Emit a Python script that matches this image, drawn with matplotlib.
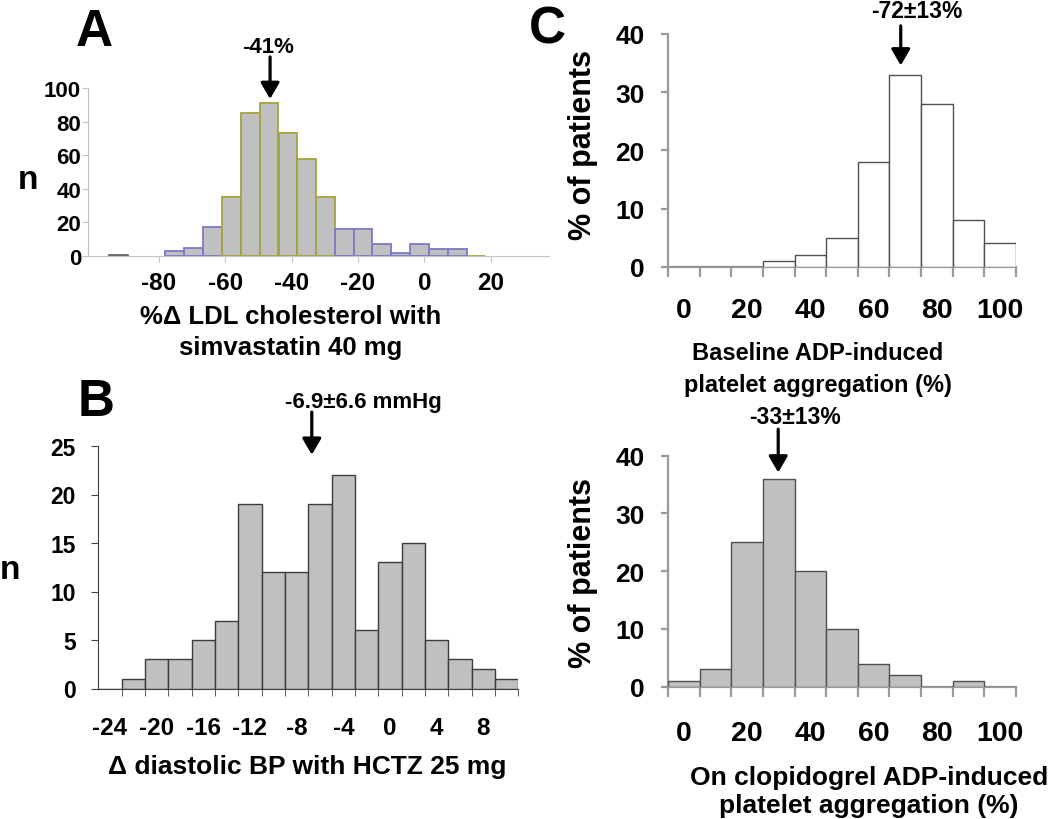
import matplotlib
matplotlib.use('Agg')
import matplotlib.pyplot as plt

plt.rcParams['font.family'] = ['Liberation Sans', 'DejaVu Sans']
plt.rcParams['font.weight'] = 'bold'

# ---------------- data ----------------
# Panel A: % change in LDL cholesterol (bin centres) and counts
A_centers = [-92.2, -75.2, -69.5, -63.8, -58.2, -52.5, -46.8, -41.1, -35.5,
             -29.8, -24.1, -18.5, -12.8, -7.1, -1.5, 4.2, 9.9, 15.6]
A_counts = [0.5, 3, 5, 17, 35, 85, 91, 73, 58, 35, 16, 16, 7, 2, 7, 4, 4, 0]
A_width = 5.67
A_xticks = [-80, -60, -40, -20, 0, 20]
A_yticks = [0, 20, 40, 60, 80, 100]
A_arrow_x = -46.5
A_note = "-41%"

# Panel B: change in diastolic BP (bin centres) and counts
B_centers = [-24, -22, -20, -18, -16, -14, -12, -10, -8, -6, -4, -2, 0, 2, 4, 6, 8, 10]
B_counts = [0, 1, 3, 3, 5, 7, 19, 12, 12, 19, 22, 6, 13, 15, 5, 3, 2, 1]
B_width = 2
B_xticks = [-24, -20, -16, -12, -8, -4, 0, 4, 8]
B_yticks = [0, 5, 10, 15, 20, 25]
B_arrow_x = -6.7
B_note = "-6.9\u00b16.6 mmHg"

# Panel C: ADP-induced platelet aggregation (bin centres), % of patients
C_centers = [0, 10, 20, 30, 40, 50, 60, 70, 80, 90, 100]
C_baseline = [0, 0, 0, 1, 2, 5, 18, 33, 28, 8, 4]
C_clopidogrel = [1, 3, 25, 36, 20, 10, 4, 2, 0, 1, 0]
C_width = 10
C_xticks = [0, 20, 40, 60, 80, 100]
C_yticks = [0, 10, 20, 30, 40]
C_top_arrow_x = 68.6
C_top_note = "-72\u00b113%"
C_bot_arrow_x = 29.8
C_bot_note = "-33\u00b113%"

# ---------------- layout helpers ----------------
W, H = 1050, 820
fig = plt.figure(figsize=(W / 100, H / 100), dpi=100)


def rect(x0, x1, y0, y1):
    return [x0 / W, 1 - y1 / H, (x1 - x0) / W, (y1 - y0) / H]


def ftext(x, y, s, size, **kw):
    kw.setdefault('ha', 'center')
    kw.setdefault('va', 'baseline')
    fig.text(x / W, 1 - y / H, s, fontsize=size, fontweight='bold', **kw)


def arrow(ax, x, y_tail, y_tip):
    ax.annotate('', xy=(x, y_tip), xytext=(x, y_tail),
                arrowprops=dict(arrowstyle='-|>,head_length=0.65,head_width=0.38',
                                color='black', lw=2.3, mutation_scale=15,
                                shrinkA=0, shrinkB=0),
                annotation_clip=False)


# ---------------- Panel A ----------------
axA = fig.add_axes(rect(88, 549, 89, 257))
edgesA = []
for i in range(len(A_centers)):
    if i == 0:
        edgesA.append('#6a6a6a')
    elif 4 <= i <= 9 or i == len(A_centers) - 1:
        edgesA.append('#a4a43c')
    else:
        edgesA.append('#7a7ac8')
axA.bar(A_centers, A_counts, width=A_width, color='#c0c0c0',
        edgecolor=edgesA, linewidth=1.3, zorder=3)
axA.set_xlim(-101.4, 37.6)
axA.set_ylim(0, 100)
for s in ['top', 'right']:
    axA.spines[s].set_visible(False)
axA.spines['left'].set_color('#c4c4c4')
axA.spines['bottom'].set_color('#c4c4c4')
axA.set_xticks(A_xticks)
axA.set_xticklabels([str(v) for v in A_xticks])
axA.set_yticks(A_yticks)
axA.set_yticklabels([str(v) for v in A_yticks])
axA.tick_params(axis='y', length=4, color='#c4c4c4', labelsize=16, pad=1)
axA.tick_params(axis='x', length=4, color='#c4c4c4', labelsize=17.5, pad=7)
arrow(axA, A_arrow_x, 118.5, 93.5)
ftext(268, 53, A_note, 16)
ftext(94.5, 46.5, 'A', 37)
ftext(28, 189, 'n', 24)
ftext(291, 324, "%\u0394 LDL cholesterol with", 18.5)
ftext(291, 355, "simvastatin 40 mg", 18.5)

# ---------------- Panel B ----------------
axB = fig.add_axes(rect(98.2, 518.4, 447, 689.5))
axB.bar(B_centers, B_counts, width=B_width, color='#c0c0c0',
        edgecolor='#3c3c3c', linewidth=1.0, zorder=3)
axB.set_xlim(-25, 11)
axB.set_ylim(0, 25)
for s in ['top', 'right']:
    axB.spines[s].set_visible(False)
axB.spines['left'].set_color('#404040')
axB.spines['bottom'].set_color('#404040')
axB.set_xticks(B_xticks)
axB.set_xticklabels([str(v) for v in B_xticks])
axB.set_xticks([c + B_width / 2 for c in B_centers], minor=True)
axB.set_yticks(B_yticks)
axB.set_yticklabels([str(v) for v in B_yticks])
axB.tick_params(axis='x', which='major', length=0, labelsize=17.5, pad=20)
axB.tick_params(axis='x', which='minor', length=5, color='#404040', direction='out')
axB.tick_params(axis='y', length=5, color='#404040', labelsize=16.5, pad=11)
arrow(axB, B_arrow_x, 28.5, 24.1)
ftext(363, 408, B_note, 16)
ftext(96, 416.5, 'B', 37)
ftext(10, 579, 'n', 24)
ftext(307.5, 774, "\u0394 diastolic BP with HCTZ 25 mg", 19)


# ---------------- Panel C ----------------
def panel_c(ytop, ybot, values, fill, note, ax_x, y_tail, y_tip, note_xy, xlabel_pad):
    ax = fig.add_axes(rect(668.3, 1015.7, ytop, ybot))
    ax.bar(C_centers, values, width=C_width, color=fill,
           edgecolor='#505050', linewidth=1.0, zorder=3)
    ax.set_xlim(C_centers[0] - C_width / 2, C_centers[-1] + C_width / 2)
    ax.set_ylim(0, 40)
    for s in ['top', 'right']:
        ax.spines[s].set_visible(False)
    for s in ['left', 'bottom']:
        ax.spines[s].set_color('#9a9a9a')
        ax.spines[s].set_linewidth(1.6)
    ax.set_xticks(C_xticks)
    ax.set_xticklabels([str(v) for v in C_xticks])
    ax.set_xticks([C_centers[0] - C_width / 2] + [c + C_width / 2 for c in C_centers], minor=True)
    ax.set_yticks(C_yticks)
    ax.set_yticklabels([str(v) for v in C_yticks])
    ax.tick_params(axis='x', which='major', length=0, labelsize=20.5, pad=xlabel_pad)
    ax.tick_params(axis='x', which='minor', length=7, width=1.6, color='#9a9a9a')
    ax.tick_params(axis='y', length=5, width=1.6, color='#9a9a9a', labelsize=19, pad=12)
    arrow(ax, ax_x, y_tail, y_tip)
    ftext(note_xy[0], note_xy[1], note, 16.5)
    return ax


axC1 = panel_c(35, 267.7, C_baseline, 'white', C_top_note, C_top_arrow_x,
               41.4, 34.6, (916.7, 18.5), 22)
axC2 = panel_c(456.7, 687.7, C_clopidogrel, '#c0c0c0', C_bot_note, C_bot_arrow_x,
               44.6, 37.1, (795, 424.5), 24)

ftext(547, 43.5, 'C', 37)
ftext(583, 145, '% of patients', 22, rotation=90, va='center')
ftext(583, 573, '% of patients', 22, rotation=90, va='center')
ftext(818, 360, "Baseline ADP-induced", 17)
ftext(818, 392, "platelet aggregation (%)", 17)
ftext(869, 785, "On clopidogrel ADP-induced", 19)
ftext(869, 813, "platelet aggregation (%)", 19)

fig.savefig('out.png', dpi=100)
